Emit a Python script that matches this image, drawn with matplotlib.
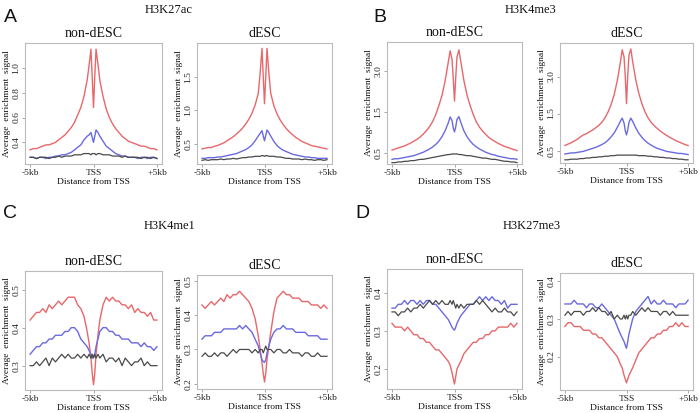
import matplotlib
matplotlib.use('Agg')
import matplotlib.pyplot as plt
import numpy as np

# ---------------- data ----------------
# distance from TSS (kb)
X = [-5.0, -4.75, -4.5, -4.25, -4.0, -3.75, -3.5, -3.25, -3.0, -2.75, -2.5, -2.25, -2.0, -1.75, -1.5, -1.25, -1.0, -0.75, -0.5,
     -0.35, -0.2, -0.1, 0.0, 0.1, 0.2, 0.35,
     0.5, 0.75, 1.0, 1.25, 1.5, 1.75, 2.0, 2.25, 2.5, 2.75, 3.0, 3.25, 3.5, 3.75, 4.0, 4.25, 4.5, 4.75, 5.0]

XTICK_LABELS = ['-5kb', 'TSS', '+5kb']
MARKS = ['H3K27ac', 'H3K4me3', 'H3K4me1', 'H3K27me3']
LETTERS = ['A', 'B', 'C', 'D']
CONDITIONS = ['non-dESC', 'dESC']

# H3K27ac non-dESC
a_non_red = [0.34, 0.35, 0.35, 0.36, 0.37, 0.38, 0.38, 0.39, 0.40, 0.42, 0.44, 0.46, 0.49, 0.52, 0.56, 0.62, 0.68, 0.77, 0.90,
             1.02, 1.15, 0.92, 0.68, 0.93, 1.15, 1.03,
             0.90, 0.77, 0.67, 0.60, 0.55, 0.51, 0.48, 0.45, 0.43, 0.41, 0.40, 0.39, 0.38, 0.37, 0.37, 0.36, 0.35, 0.35, 0.34]
a_non_blue = [0.28, 0.28, 0.27, 0.28, 0.28, 0.27, 0.28, 0.28, 0.29, 0.29, 0.30, 0.30, 0.31, 0.32, 0.34, 0.36, 0.38, 0.42, 0.45,
              0.46, 0.48, 0.44, 0.40, 0.45, 0.50, 0.48,
              0.45, 0.41, 0.37, 0.35, 0.33, 0.31, 0.30, 0.29, 0.29, 0.28, 0.28, 0.28, 0.27, 0.28, 0.28, 0.27, 0.28, 0.28, 0.27]
a_non_black = [0.28, 0.28, 0.27, 0.28, 0.28, 0.28, 0.27, 0.28, 0.28, 0.29, 0.28, 0.29, 0.29, 0.29, 0.30, 0.30, 0.30, 0.31, 0.31,
               0.31, 0.30, 0.31, 0.31, 0.31, 0.30, 0.31,
               0.31, 0.30, 0.30, 0.30, 0.29, 0.29, 0.29, 0.28, 0.29, 0.28, 0.28, 0.28, 0.28, 0.27, 0.28, 0.28, 0.27, 0.28, 0.27]
# H3K27ac dESC
a_d_red = [0.43, 0.44, 0.45, 0.45, 0.47, 0.48, 0.50, 0.52, 0.55, 0.58, 0.61, 0.65, 0.69, 0.74, 0.80, 0.87, 0.96, 1.08, 1.25,
           1.55, 1.92, 1.50, 1.10, 1.50, 1.92, 1.55,
           1.25, 1.07, 0.95, 0.86, 0.79, 0.73, 0.68, 0.64, 0.60, 0.57, 0.54, 0.52, 0.50, 0.48, 0.47, 0.46, 0.45, 0.44, 0.43]
a_d_blue = [0.29, 0.29, 0.30, 0.30, 0.30, 0.31, 0.31, 0.32, 0.33, 0.34, 0.35, 0.36, 0.38, 0.40, 0.42, 0.45, 0.49, 0.55, 0.62,
            0.66, 0.70, 0.62, 0.55, 0.63, 0.71, 0.67,
            0.62, 0.54, 0.48, 0.44, 0.41, 0.39, 0.37, 0.35, 0.34, 0.33, 0.32, 0.31, 0.31, 0.30, 0.30, 0.29, 0.29, 0.29, 0.29]
a_d_black = [0.26, 0.27, 0.26, 0.27, 0.27, 0.27, 0.28, 0.27, 0.28, 0.28, 0.29, 0.28, 0.29, 0.30, 0.30, 0.31, 0.31, 0.32, 0.32,
             0.32, 0.33, 0.33, 0.32, 0.33, 0.33, 0.32,
             0.32, 0.32, 0.31, 0.31, 0.30, 0.29, 0.29, 0.28, 0.28, 0.28, 0.27, 0.28, 0.27, 0.27, 0.26, 0.27, 0.27, 0.26, 0.27]
# H3K4me3 non-dESC
b_non_red = [0.56, 0.58, 0.60, 0.62, 0.64, 0.67, 0.70, 0.74, 0.78, 0.83, 0.90, 0.98, 1.08, 1.22, 1.42, 1.70, 2.05, 2.60, 3.40,
             3.95, 3.55, 2.70, 1.85, 2.75, 3.65, 4.00,
             3.45, 2.62, 2.06, 1.70, 1.42, 1.21, 1.07, 0.97, 0.89, 0.82, 0.77, 0.73, 0.69, 0.66, 0.63, 0.61, 0.59, 0.57, 0.55]
b_non_blue = [0.40, 0.41, 0.41, 0.42, 0.43, 0.44, 0.45, 0.46, 0.48, 0.50, 0.52, 0.55, 0.58, 0.62, 0.67, 0.74, 0.84, 0.98, 1.18,
              1.35, 1.25, 1.05, 0.95, 1.08, 1.28, 1.36,
              1.20, 0.98, 0.84, 0.74, 0.67, 0.62, 0.58, 0.55, 0.52, 0.50, 0.48, 0.47, 0.45, 0.44, 0.43, 0.42, 0.41, 0.41, 0.40]
b_non_black = [0.35, 0.35, 0.36, 0.36, 0.37, 0.37, 0.38, 0.38, 0.39, 0.40, 0.40, 0.41, 0.42, 0.43, 0.44, 0.45, 0.46, 0.47, 0.48,
               0.48, 0.49, 0.49, 0.49, 0.49, 0.49, 0.48,
               0.48, 0.47, 0.46, 0.46, 0.45, 0.44, 0.43, 0.42, 0.42, 0.41, 0.40, 0.40, 0.39, 0.38, 0.37, 0.37, 0.36, 0.36, 0.35]
# H3K4me3 dESC
b_d_red = [0.62, 0.65, 0.68, 0.72, 0.76, 0.82, 0.87, 0.90, 0.95, 1.00, 1.06, 1.13, 1.22, 1.36, 1.55, 1.82, 2.20, 2.80, 3.70,
           4.40, 4.00, 3.00, 1.85, 3.05, 4.10, 4.45,
           3.75, 2.85, 2.25, 1.85, 1.56, 1.36, 1.22, 1.12, 1.04, 0.97, 0.91, 0.86, 0.81, 0.77, 0.73, 0.70, 0.67, 0.64, 0.62]
b_d_blue = [0.45, 0.46, 0.47, 0.47, 0.48, 0.49, 0.50, 0.52, 0.54, 0.56, 0.58, 0.61, 0.64, 0.68, 0.74, 0.82, 0.92, 1.07, 1.25,
            1.35, 1.20, 0.98, 0.87, 1.00, 1.22, 1.35,
            1.25, 1.06, 0.91, 0.81, 0.73, 0.67, 0.63, 0.59, 0.56, 0.54, 0.52, 0.50, 0.49, 0.48, 0.47, 0.46, 0.46, 0.45, 0.44]
b_d_black = [0.35, 0.35, 0.36, 0.36, 0.36, 0.37, 0.37, 0.38, 0.38, 0.39, 0.39, 0.40, 0.40, 0.41, 0.41, 0.42, 0.42, 0.43, 0.43,
             0.43, 0.43, 0.43, 0.43, 0.43, 0.43, 0.43,
             0.43, 0.43, 0.42, 0.42, 0.42, 0.41, 0.41, 0.40, 0.40, 0.39, 0.39, 0.38, 0.38, 0.37, 0.37, 0.36, 0.36, 0.35, 0.35]
# H3K4me1 non-dESC
c_non_red = [0.42, 0.43, 0.44, 0.44, 0.45, 0.44, 0.46, 0.45, 0.46, 0.47, 0.46, 0.47, 0.48, 0.48, 0.48, 0.46, 0.45, 0.43, 0.39,
             0.36, 0.32, 0.28, 0.25, 0.28, 0.33, 0.38,
             0.42, 0.46, 0.48, 0.47, 0.48, 0.47, 0.47, 0.46, 0.46, 0.45, 0.46, 0.44, 0.45, 0.44, 0.44, 0.43, 0.44, 0.42, 0.42]
c_non_blue = [0.33, 0.34, 0.35, 0.35, 0.36, 0.36, 0.37, 0.37, 0.38, 0.38, 0.38, 0.39, 0.39, 0.40, 0.40, 0.39, 0.37, 0.36, 0.35,
              0.34, 0.33, 0.32, 0.325, 0.33, 0.35, 0.37,
              0.39, 0.40, 0.40, 0.39, 0.39, 0.38, 0.38, 0.37, 0.37, 0.37, 0.36, 0.36, 0.36, 0.35, 0.36, 0.35, 0.35, 0.34, 0.35]
c_non_black = [0.30, 0.30, 0.31, 0.30, 0.31, 0.32, 0.30, 0.32, 0.31, 0.32, 0.33, 0.32, 0.33, 0.32, 0.32, 0.33, 0.32, 0.33, 0.32,
               0.33, 0.32, 0.33, 0.32, 0.33, 0.32, 0.33,
               0.32, 0.33, 0.31, 0.32, 0.32, 0.31, 0.32, 0.30, 0.32, 0.31, 0.30, 0.31, 0.31, 0.32, 0.30, 0.31, 0.30, 0.30, 0.30]
# H3K4me1 dESC
c_d_red = [0.43, 0.42, 0.43, 0.44, 0.43, 0.44, 0.45, 0.44, 0.46, 0.45, 0.46, 0.46, 0.47, 0.46, 0.45, 0.44, 0.42, 0.39, 0.34,
           0.30, 0.26, 0.23, 0.205, 0.23, 0.27, 0.31,
           0.35, 0.41, 0.45, 0.46, 0.47, 0.46, 0.46, 0.45, 0.45, 0.45, 0.44, 0.44, 0.44, 0.43, 0.43, 0.43, 0.42, 0.43, 0.42]
c_d_blue = [0.33, 0.34, 0.34, 0.34, 0.35, 0.35, 0.35, 0.36, 0.36, 0.36, 0.36, 0.36, 0.37, 0.36, 0.37, 0.36, 0.35, 0.33, 0.31,
            0.29, 0.27, 0.265, 0.262, 0.27, 0.29, 0.31,
            0.33, 0.35, 0.36, 0.36, 0.37, 0.36, 0.36, 0.36, 0.35, 0.35, 0.35, 0.35, 0.34, 0.34, 0.34, 0.34, 0.33, 0.33, 0.33]
c_d_black = [0.28, 0.29, 0.28, 0.28, 0.29, 0.28, 0.29, 0.29, 0.28, 0.29, 0.30, 0.29, 0.30, 0.30, 0.30, 0.30, 0.29, 0.30, 0.29,
             0.30, 0.30, 0.29, 0.30, 0.31, 0.30, 0.30,
             0.30, 0.29, 0.30, 0.30, 0.29, 0.29, 0.30, 0.29, 0.29, 0.29, 0.28, 0.29, 0.29, 0.28, 0.28, 0.29, 0.28, 0.28, 0.28]
# H3K27me3 non-dESC
d_non_red = [0.32, 0.31, 0.31, 0.31, 0.30, 0.31, 0.30, 0.29, 0.29, 0.28, 0.28, 0.27, 0.27, 0.26, 0.25, 0.25, 0.24, 0.23, 0.22,
             0.21, 0.19, 0.175, 0.16, 0.18, 0.20, 0.21,
             0.22, 0.24, 0.25, 0.26, 0.27, 0.27, 0.28, 0.28, 0.29, 0.29, 0.30, 0.30, 0.31, 0.31, 0.31, 0.31, 0.32, 0.31, 0.32]
d_non_blue = [0.36, 0.36, 0.37, 0.37, 0.38, 0.37, 0.38, 0.38, 0.37, 0.38, 0.37, 0.38, 0.38, 0.37, 0.37, 0.36, 0.35, 0.34, 0.33,
              0.32, 0.31, 0.305, 0.302, 0.31, 0.32, 0.33,
              0.34, 0.35, 0.36, 0.37, 0.37, 0.38, 0.39, 0.38, 0.39, 0.38, 0.39, 0.38, 0.38, 0.37, 0.38, 0.36, 0.37, 0.37, 0.37]
d_non_black = [0.35, 0.35, 0.34, 0.35, 0.35, 0.36, 0.35, 0.36, 0.36, 0.37, 0.36, 0.37, 0.38, 0.37, 0.38, 0.37, 0.38, 0.37, 0.37,
               0.38, 0.37, 0.38, 0.37, 0.36, 0.37, 0.36,
               0.37, 0.36, 0.37, 0.37, 0.37, 0.38, 0.37, 0.38, 0.37, 0.36, 0.35, 0.36, 0.35, 0.35, 0.36, 0.35, 0.35, 0.34, 0.35]
# H3K27me3 dESC
d_d_red = [0.28, 0.29, 0.29, 0.28, 0.28, 0.28, 0.27, 0.27, 0.27, 0.26, 0.26, 0.25, 0.25, 0.24, 0.23, 0.22, 0.21, 0.20, 0.18,
           0.17, 0.15, 0.14, 0.13, 0.14, 0.15, 0.16,
           0.17, 0.19, 0.21, 0.22, 0.23, 0.24, 0.25, 0.25, 0.26, 0.26, 0.27, 0.27, 0.28, 0.28, 0.29, 0.28, 0.29, 0.28, 0.28]
d_d_blue = [0.34, 0.34, 0.34, 0.35, 0.34, 0.34, 0.34, 0.33, 0.34, 0.34, 0.33, 0.33, 0.34, 0.33, 0.32, 0.31, 0.30, 0.28, 0.26,
            0.25, 0.24, 0.23, 0.222, 0.24, 0.26, 0.28,
            0.30, 0.32, 0.33, 0.34, 0.35, 0.36, 0.34, 0.35, 0.34, 0.34, 0.35, 0.34, 0.34, 0.34, 0.33, 0.34, 0.34, 0.34, 0.35]
d_d_black = [0.31, 0.32, 0.31, 0.32, 0.32, 0.32, 0.31, 0.32, 0.32, 0.33, 0.32, 0.33, 0.32, 0.32, 0.31, 0.32, 0.30, 0.31, 0.30,
             0.30, 0.31, 0.30, 0.31, 0.30, 0.31, 0.31,
             0.32, 0.31, 0.32, 0.33, 0.32, 0.33, 0.32, 0.32, 0.32, 0.31, 0.32, 0.32, 0.31, 0.32, 0.31, 0.31, 0.31, 0.31, 0.31]

# ---------------- styling / layout ----------------
RED, BLUE, BLACK = '#E8676B', '#6A6AE0', '#4A4A4A'
SERIF = 'Liberation Serif'
SANS = 'Liberation Sans'
W, H = 700, 413

fig = plt.figure(figsize=(7.0, 4.13), dpi=100)
fig.patch.set_facecolor('white')


def rect(l, t, r, b):
    return [l / W, 1 - b / H, (r - l) / W, (b - t) / H]


panels = [
    # (box px, condition, series, ylim, yticks, scale)
    ((25, 43, 162, 164), 0, (a_non_red, a_non_blue, a_non_black), (0.226, 1.20), [0.4, 0.6, 0.8, 1.0], 'linear'),
    ((197, 43, 332, 164), 1, (a_d_red, a_d_blue, a_d_black), (0.206, 2.00), [0.5, 1.0, 1.5], 'linear'),
    ((387, 42, 522, 164), 0, (b_non_red, b_non_blue, b_non_black), (0.33, 4.40), [0.5, 1.5, 3.0], 'sqrt'),
    ((560, 43, 693, 163), 1, (b_d_red, b_d_blue, b_d_black), (0.30, 4.80), [0.5, 1.5, 3.0], 'sqrt'),
    ((25, 271, 162, 390), 0, (c_non_red, c_non_blue, c_non_black), (0.236, 0.549), [0.3, 0.4, 0.5], 'linear'),
    ((197, 275, 332, 389), 1, (c_d_red, c_d_blue, c_d_black), (0.1845, 0.5175), [0.2, 0.3, 0.4, 0.5], 'linear'),
    ((387, 269, 522, 389), 0, (d_non_red, d_non_blue, d_non_black), (0.147, 0.463), [0.2, 0.3, 0.4], 'linear'),
    ((560, 273, 693, 390), 1, (d_d_red, d_d_blue, d_d_black), (0.111, 0.4224), [0.2, 0.3, 0.4], 'linear'),
]

for (l, t, r, b), cond, (red, blue, black), ylim, yticks, scale in panels:
    ax = fig.add_axes(rect(l, t, r, b))
    if scale == 'sqrt':
        ax.set_yscale('function', functions=(lambda v: np.sqrt(np.clip(v, 0, None)), lambda v: np.square(v)))
    ax.plot(X, red, color=RED, lw=1.0)
    ax.plot(X, blue, color=BLUE, lw=1.0)
    ax.plot(X, black, color=BLACK, lw=0.9)
    ax.set_xlim(-5.4, 5.4)
    ax.set_ylim(*ylim)
    ax.set_xticks([-5, 0, 5])
    ax.set_xticklabels(XTICK_LABELS, family=SERIF, fontsize=6.8, color='#222222')
    ax.set_yticks(yticks)
    ax.set_yticklabels(['%.1f' % v for v in yticks], family=SERIF, fontsize=6.8,
                       rotation=90, va='center', color='#222222')
    ax.minorticks_off()
    for s in ax.spines.values():
        s.set_color('#BBBBBB')
        s.set_linewidth(0.8)
    ax.tick_params(length=2.5, width=0.6, color='#999999', pad=1.0)
    ax.set_title(CONDITIONS[cond], family=SERIF, fontsize=10, pad=4, color='#111111')
    ax.set_xlabel('Distance from TSS', family=SERIF, fontsize=6.8, labelpad=1, color='#111111')
    ax.set_ylabel('Average  enrichment  signal', family=SERIF, fontsize=6.8, labelpad=0.5, color='#111111')

# headers and letters
header_pos = [(169, 10), (531, 10), (170, 226), (532, 226)]
letter_pos = [(10, 18), (380, 18), (10, 213), (362, 213)]
for name, (hx, hy) in zip(MARKS, header_pos):
    fig.text(hx / W, 1 - hy / H, name, ha='center', va='center', family=SERIF, fontsize=9, color='#111111')
for letter, (lx, ly) in zip(LETTERS, letter_pos):
    fig.text(lx / W, 1 - ly / H, letter, ha='center', va='center', family=SANS, fontsize=14, color='#111111')

fig.savefig('out.png', dpi=100, facecolor='white')
